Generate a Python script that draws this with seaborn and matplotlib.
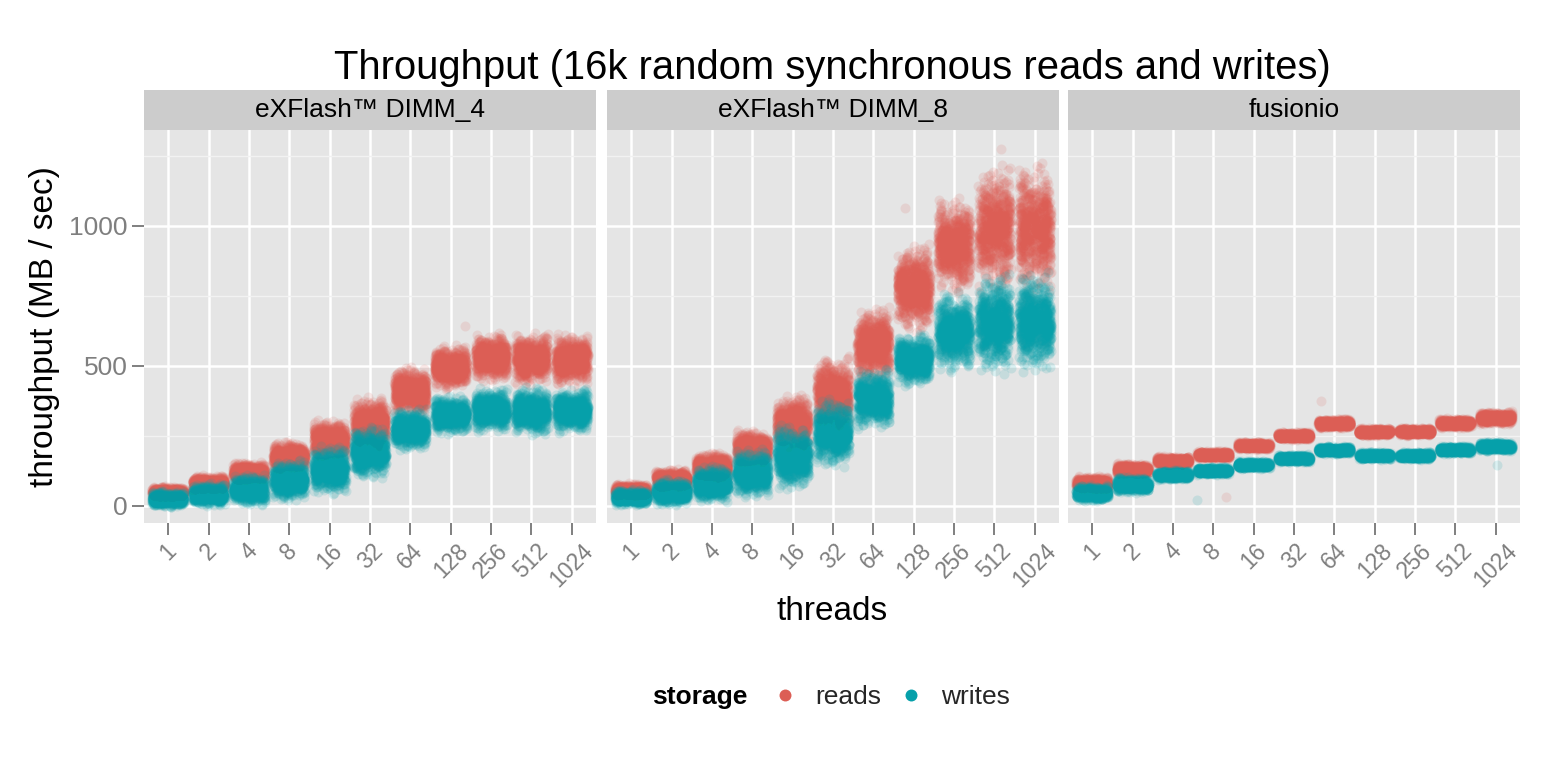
"""Throughput of 16k random synchronous reads/writes, faceted by device."""
from statistics import NormalDist

import matplotlib
matplotlib.use("Agg")
import matplotlib.pyplot as plt
import numpy as np
import pandas as pd
import seaborn as sns
from matplotlib.lines import Line2D
from matplotlib.ticker import FixedLocator

np.random.seed(3)

DEVICES = ["eXFlash™ DIMM_4", "eXFlash™ DIMM_8", "fusionio"]
THREADS = ["1", "2", "4", "8", "16", "32", "64", "128", "256", "512", "1024"]
STORAGE = ["reads", "writes"]
COLORS = {"reads": "#DC5E55", "writes": "#06A0AA"}

# centre and half-width of each dense cloud (MB/sec)
DIMM4_READS = [48, 80, 120, 175, 235, 295, 410, 495, 530, 525, 522]
DIMM4_READS_HALF = [15, 20, 25, 38, 50, 65, 60, 55, 60, 65, 65]
DIMM4_WRITES = [24, 40, 57, 90, 128, 190, 273, 325, 342, 338, 340]
DIMM4_WRITES_HALF = [20, 28, 38, 50, 60, 65, 52, 48, 55, 60, 55]

DIMM8_READS = [55, 95, 140, 205, 295, 400, 575, 778, 930, 990, 990]
DIMM8_READS_HALF = [17, 25, 35, 45, 70, 95, 95, 110, 120, 160, 165]
DIMM8_WRITES = [30, 48, 78, 116, 173, 260, 382, 522, 620, 650, 655]
DIMM8_WRITES_HALF = [20, 32, 45, 60, 80, 85, 75, 65, 100, 125, 125]

FUSION_READS = [80, 130, 160, 182, 215, 250, 294, 264, 265, 295, 314]
FUSION_READS_HALF = [18, 15, 12, 10, 10, 10, 12, 10, 10, 12, 16]
FUSION_WRITES = [45, 75, 110, 125, 146, 169, 199, 179, 179, 200, 212]
FUSION_WRITES_HALF = [20, 20, 12, 10, 10, 10, 10, 10, 10, 10, 12]

# a few stray samples outside the dense clouds
OUTLIER_DEVICE = ["eXFlash™ DIMM_4", "eXFlash™ DIMM_8", "eXFlash™ DIMM_8",
                  "fusionio", "fusionio", "fusionio", "fusionio"]
OUTLIER_THREADS = ["128", "512", "128", "64", "8", "8", "1024"]
OUTLIER_STORAGE = ["reads", "reads", "reads", "reads", "writes", "reads",
                   "writes"]
OUTLIER_VALUE = [643, 1275, 1065, 375, 20, 30, 145]

SERIES = {
    ("eXFlash™ DIMM_4", "reads"): (DIMM4_READS, DIMM4_READS_HALF),
    ("eXFlash™ DIMM_4", "writes"): (DIMM4_WRITES, DIMM4_WRITES_HALF),
    ("eXFlash™ DIMM_8", "reads"): (DIMM8_READS, DIMM8_READS_HALF),
    ("eXFlash™ DIMM_8", "writes"): (DIMM8_WRITES, DIMM8_WRITES_HALF),
    ("fusionio", "reads"): (FUSION_READS, FUSION_READS_HALF),
    ("fusionio", "writes"): (FUSION_WRITES, FUSION_WRITES_HALF),
}

N_PER_GROUP = 700
W, H = 1560, 780


def cloud(center, half, n=N_PER_GROUP):
    # spread samples over the cloud by normal quantiles (sd = 0.52 * half)
    probs = np.linspace(0.003, 0.997, n)
    z = np.array([NormalDist().inv_cdf(p) for p in probs])
    return center + z * half * 0.52


rows = []
for (dev, st), (centers, halves) in SERIES.items():
    for th, c, h in zip(THREADS, centers, halves):
        for v in cloud(c, h):
            rows.append((dev, th, st, v))
for dev, th, st, v in zip(OUTLIER_DEVICE, OUTLIER_THREADS, OUTLIER_STORAGE,
                          OUTLIER_VALUE):
    rows.append((dev, th, st, v))
df = pd.DataFrame(rows, columns=["device", "threads", "storage", "throughput"])

sns.set_theme(style="darkgrid", rc={
    "axes.facecolor": "#E5E5E5",
    "grid.color": "white",
    "axes.edgecolor": "#E5E5E5",
})
plt.rcParams["font.family"] = ["Liberation Sans", "DejaVu Sans"]

fig = plt.figure(figsize=(W / 100, H / 100), dpi=100)

PANEL_LEFT = [144, 607, 1068]
PANEL_W = 452
PANEL_TOP, PANEL_BOTTOM = 130, 523
STRIP_H = 40

for i, dev in enumerate(DEVICES):
    ax = fig.add_axes([PANEL_LEFT[i] / W, 1 - PANEL_BOTTOM / H,
                       PANEL_W / W, (PANEL_BOTTOM - PANEL_TOP) / H])
    sub = df[df["device"] == dev]
    for st in STORAGE:
        sns.stripplot(data=sub[sub["storage"] == st], x="threads",
                      y="throughput", order=THREADS, color=COLORS[st],
                      jitter=0.4, size=7.2, alpha=0.14, linewidth=0,
                      ax=ax, zorder=3)
    ax.set_xlim(-0.6, 10.6)
    ax.set_ylim(-62, 1343)
    ax.yaxis.set_major_locator(FixedLocator([0, 500, 1000]))
    ax.yaxis.set_minor_locator(FixedLocator([250, 750, 1250]))
    ax.grid(which="major", color="white", lw=1.8)
    ax.grid(which="minor", axis="y", color="#F2F2F2", lw=1.0)
    ax.set_axisbelow(True)
    for s in ax.spines.values():
        s.set_visible(False)
    ax.set_xlabel("")
    ax.set_ylabel("")
    ax.tick_params(axis="both", which="major", length=8.6, width=1.4,
                   color="#7F7F7F", labelcolor="#7F7F7F", pad=3)
    ax.tick_params(axis="y", which="minor", length=0)
    ax.tick_params(axis="x", bottom=True, labelsize=16.5)
    plt.setp(ax.get_xticklabels(), rotation=45, ha="center", va="top")
    if i == 0:
        ax.tick_params(axis="y", left=True, labelsize=19)
    else:
        ax.tick_params(axis="y", left=False, labelleft=False)

    sax = fig.add_axes([PANEL_LEFT[i] / W, 1 - PANEL_TOP / H,
                        PANEL_W / W, STRIP_H / H])
    sax.set_facecolor("#CCCCCC")
    sax.set_xticks([])
    sax.set_yticks([])
    sax.grid(False)
    for s in sax.spines.values():
        s.set_visible(False)
    sax.text(0.5, 0.5, dev, ha="center", va="center", fontsize=19,
             color="black", transform=sax.transAxes)

fig.text(832 / W, 1 - 68 / H,
         "Throughput (16k random synchronous reads and writes)",
         ha="center", va="center", fontsize=28.8, color="black")
fig.text(832 / W, 1 - 611 / H, "threads", ha="center", va="center",
         fontsize=24, color="black")
fig.text(45 / W, 1 - 327 / H, "throughput (MB / sec)", ha="center",
         va="center", rotation=90, fontsize=24, color="black")

handles = [Line2D([], [], marker="o", ls="", markersize=8.6,
                  markerfacecolor=COLORS[s], markeredgewidth=0)
           for s in STORAGE]
fig.text(700 / W, 1 - 697 / H, "storage", ha="center", va="center",
         fontsize=19, fontweight="bold", color="black")
fig.legend(handles, STORAGE, loc="center", bbox_to_anchor=(891 / W, 1 - 697 / H),
           ncol=2, frameon=False, fontsize=19, handlelength=1.0,
           handletextpad=0.64, columnspacing=0.64, borderaxespad=0,
           borderpad=0)

fig.savefig("out.png", dpi=100, facecolor="white")
